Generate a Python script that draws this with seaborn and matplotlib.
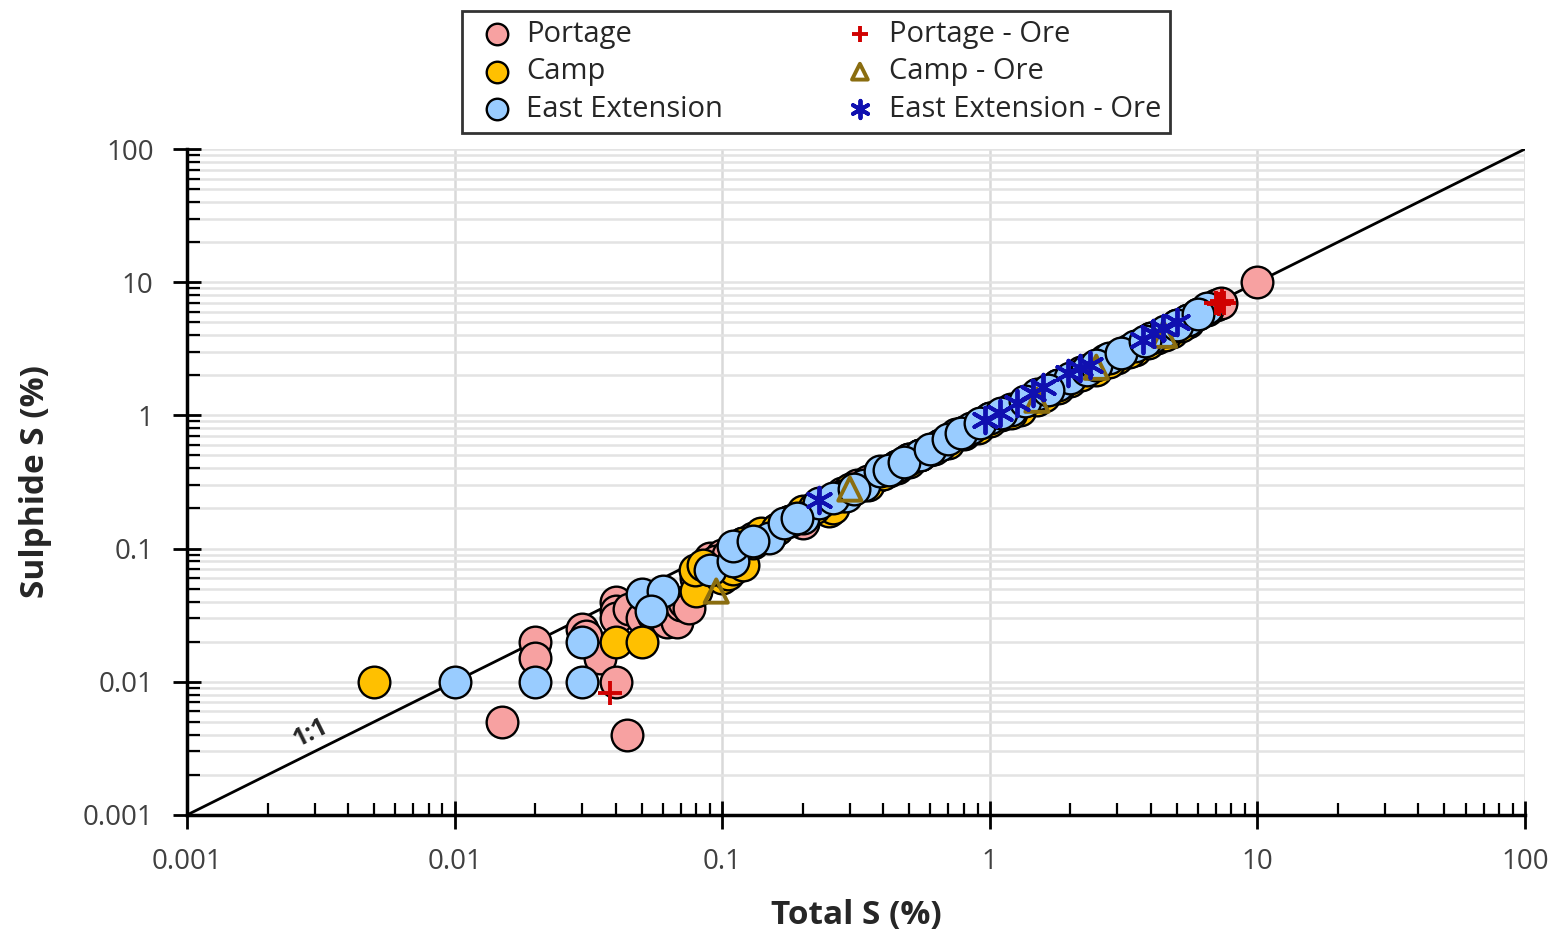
import numpy as np
import pandas as pd
import matplotlib
matplotlib.use("Agg")
import matplotlib.pyplot as plt
import seaborn as sns
from matplotlib.ticker import LogLocator, FixedFormatter, FixedLocator, NullFormatter

# data (Total S %, Sulphide S %)
portage_x = [0.015, 0.02, 0.02, 0.03, 0.031, 0.035, 0.04, 0.044, 0.04, 0.04, 0.04, 0.045,
             0.05, 0.055, 0.06, 0.062, 0.068, 0.07, 0.072, 0.075, 0.08, 0.09, 0.1, 0.11,
             0.12, 0.13, 0.15, 0.18, 0.2, 0.22, 0.25, 0.28, 0.32, 0.38, 0.45, 0.5, 0.6,
             0.7, 0.8, 1.0, 1.2, 1.5, 1.8, 2.2, 2.7, 3.3, 4.0, 5.0, 6.0, 7.0, 7.3, 10.0,
             0.085, 0.095, 0.105, 0.14, 0.16, 0.19, 0.24, 0.3, 0.35, 0.42, 0.55, 0.65,
             0.9, 1.1, 1.35, 1.65, 2.0, 2.45, 3.0, 3.6, 4.5, 5.5, 6.5]
portage_y = [0.005, 0.02, 0.015, 0.025, 0.022, 0.015, 0.01, 0.004, 0.04, 0.034, 0.03, 0.035,
             0.03, 0.032, 0.03, 0.028, 0.028, 0.038, 0.04, 0.036, 0.06, 0.085, 0.09, 0.1,
             0.11, 0.12, 0.13, 0.16, 0.155, 0.2, 0.22, 0.26, 0.3, 0.35, 0.42, 0.47, 0.55,
             0.65, 0.75, 0.95, 1.12, 1.4, 1.7, 2.1, 2.6, 3.1, 3.8, 4.8, 5.8, 6.8, 7.0, 10.0,
             0.07, 0.08, 0.09, 0.12, 0.14, 0.17, 0.21, 0.27, 0.32, 0.38, 0.5, 0.6,
             0.84, 1.02, 1.25, 1.52, 1.85, 2.3, 2.8, 3.4, 4.2, 5.2, 6.2]

camp_x = [0.005, 0.04, 0.05, 0.08, 0.079, 0.085, 0.1, 0.105, 0.11, 0.12, 0.12, 0.14, 0.16,
          0.2, 0.25, 0.24, 0.26, 0.3, 0.35, 0.45, 0.55, 0.7, 0.9, 1.1, 1.3, 1.5, 1.6, 2.0,
          2.5, 3.0, 3.5, 4.2, 4.8, 5.5,
          0.13, 0.18, 0.22, 0.28, 0.4, 0.5, 0.62, 0.8, 1.0, 1.2, 1.8, 2.2, 2.8, 3.3,
          3.9, 4.5, 5.2]
camp_y = [0.01, 0.02, 0.02, 0.048, 0.069, 0.075, 0.06, 0.065, 0.07, 0.075, 0.11, 0.13, 0.14,
          0.19, 0.19, 0.22, 0.2, 0.28, 0.3, 0.4, 0.5, 0.62, 0.8, 1.0, 1.1, 1.3, 1.4, 1.8,
          2.2, 2.7, 3.1, 3.8, 4.2, 5.0,
          0.11, 0.16, 0.2, 0.25, 0.36, 0.45, 0.56, 0.72, 0.9, 1.05, 1.6, 2.0, 2.5, 3.0,
          3.5, 4.0, 4.7]

east_x = [0.01, 0.02, 0.03, 0.03, 0.05, 0.06, 0.054, 0.09, 0.11, 0.11, 0.15, 0.17, 0.2,
          0.23, 0.29, 0.34, 0.39, 0.45, 0.5, 0.55, 0.65, 0.75, 0.8, 0.85, 1.0, 1.2, 1.5,
          1.8, 2.0, 2.3, 2.8, 3.5, 4.0, 4.5, 5.5, 6.5,
          0.13, 0.19, 0.26, 0.31, 0.42, 0.48, 0.6, 0.7, 0.78, 0.92, 1.1, 1.35, 1.65,
          2.5, 3.1, 3.8, 5.0, 6.0]
east_y = [0.01, 0.01, 0.01, 0.02, 0.046, 0.048, 0.034, 0.069, 0.08, 0.105, 0.12, 0.155, 0.17,
          0.22, 0.25, 0.3, 0.38, 0.42, 0.47, 0.5, 0.6, 0.72, 0.75, 0.8, 0.95, 1.1, 1.45,
          1.7, 1.9, 2.2, 2.7, 3.3, 3.8, 4.3, 5.2, 6.4,
          0.115, 0.17, 0.24, 0.28, 0.39, 0.45, 0.56, 0.66, 0.74, 0.87, 1.04, 1.28, 1.56,
          2.4, 2.95, 3.6, 4.8, 5.8]

portage_ore_x = [0.038, 7.0, 7.2, 7.4, 7.5]
portage_ore_y = [0.0082, 7.0, 6.9, 7.2, 7.0]

camp_ore_x = [0.095, 0.3, 1.5, 2.5, 4.5]
camp_ore_y = [0.048, 0.28, 1.3, 2.3, 4.0]

east_ore_x = [0.23, 0.96, 1.09, 1.26, 1.45, 1.58, 1.96, 2.17, 2.37, 3.74, 4.07, 4.44, 5.0]
east_ore_y = [0.23, 0.92, 1.04, 1.24, 1.47, 1.63, 2.08, 2.27, 2.39, 3.68, 4.16, 4.53, 5.03]

decades = [0.001, 0.01, 0.1, 1, 10, 100]
decade_labels = ["0.001", "0.01", "0.1", "1", "10", "100"]

sns.set_style("ticks")
plt.rcParams['font.family'] = ['Open Sans', 'DejaVu Sans']

fig = plt.figure(figsize=(15.62, 9.36), dpi=100)
ax = fig.add_axes([0.1197, 0.1293, 0.8566, 0.7115])
ax.set_xscale("log")
ax.set_yscale("log")
ax.set_xlim(0.001, 100)
ax.set_ylim(0.001, 100)

# grid: vertical majors only, horizontal majors + minors
for d in decades:
    ax.axvline(d, color="#d9d9d9", lw=1.8, zorder=0)
ytick_minor = [m * d for d in decades[:-1] for m in range(2, 10)]
for v in decades + ytick_minor:
    ax.axhline(v, color="#e3e3e3", lw=1.8, zorder=0)

# 1:1 line
ax.plot([0.001, 100], [0.001, 100], color="black", lw=2, zorder=1)
ax.text(0.0029, 0.0041, "1:1", rotation=26.5, fontsize=18, fontweight="bold",
        ha="center", va="center", zorder=2)

circ = dict(s=520, edgecolor="black", linewidth=1.7, zorder=3)
sns.scatterplot(x=portage_x, y=portage_y, color="#f7a1a1", label="Portage", ax=ax, **circ)
sns.scatterplot(x=camp_x, y=camp_y, color="#ffc000", label="Camp", ax=ax, **circ)
sns.scatterplot(x=east_x, y=east_y, color="#99ccff", label="East Extension", ax=ax, **circ)

ax.scatter(portage_ore_x, portage_ore_y, marker="+", s=300, color="#d00000",
           linewidths=2.8, label="Portage - Ore", zorder=4)
ax.scatter(camp_ore_x, camp_ore_y, marker="^", s=280, facecolors="none",
           edgecolors="#8a6d10", linewidths=2.8, label="Camp - Ore", zorder=4)
ax.scatter(east_ore_x, east_ore_y, marker=(6, 2, 0), s=340, color="#1010b0",
           linewidths=2.8, label="East Extension - Ore", zorder=4)

# axes / ticks
for side in ["top", "right"]:
    ax.spines[side].set_visible(False)
for side in ["left", "bottom"]:
    ax.spines[side].set_linewidth(2.5)
    ax.spines[side].set_color("black")
    ax.spines[side].set_zorder(5)

ax.xaxis.set_major_locator(FixedLocator(decades))
ax.yaxis.set_major_locator(FixedLocator(decades))
ax.xaxis.set_major_formatter(FixedFormatter(decade_labels))
ax.yaxis.set_major_formatter(FixedFormatter(decade_labels))
ax.xaxis.set_minor_locator(LogLocator(base=10, subs=np.arange(2, 10), numticks=20))
ax.yaxis.set_minor_locator(LogLocator(base=10, subs=np.arange(2, 10), numticks=20))
ax.xaxis.set_minor_formatter(NullFormatter())
ax.yaxis.set_minor_formatter(NullFormatter())
ax.tick_params(axis="x", which="both", bottom=True, top=False)
ax.tick_params(axis="y", which="both", left=True, right=False)
ax.tick_params(which="major", direction="inout", length=20, width=2, labelsize=20,
               colors="black", labelcolor="#404040", pad=14)
ax.tick_params(which="minor", direction="in", length=9, width=1.6, colors="black")

ax.set_xlabel("Total S (%)", fontsize=24, fontweight="bold", labelpad=16)
ax.set_ylabel("Sulphide S (%)", fontsize=24, fontweight="bold", labelpad=22)

leg = ax.legend(ncol=2, loc="upper center", bbox_to_anchor=(0.5224, 1.004),
                bbox_transform=fig.transFigure, fontsize=21, markerscale=0.68,
                frameon=True, fancybox=False, edgecolor="black", handletextpad=0.1,
                handlelength=1.8, columnspacing=3.8, labelspacing=0.3, borderpad=0.3)
leg.get_frame().set_linewidth(2)

fig.savefig("out.png", dpi=100)
